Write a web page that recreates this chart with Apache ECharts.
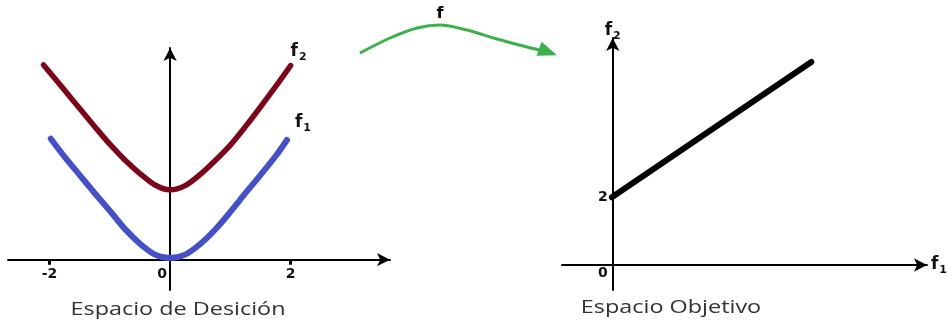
<!DOCTYPE html>
<html>
<head>
	<meta charset="utf-8">
	<title>Espacio de Desición / Espacio Objetivo</title>
	<script src="https://cdn.jsdelivr.net/npm/echarts@6/dist/echarts.min.js"></script>
</head>
<body style="margin:0">
<div id="chart" style="width:950px;height:322px"></div>
<script>
	// espacio de decision: x -> f1, f2
	const f1X = [-1.98, -1.75, -1.5, -1.25, -1, -0.75, -0.5, -0.25, 0, 0.25, 0.5, 0.75, 1, 1.25, 1.5, 1.75, 1.94];
	const f1Vals = [4.0, 3.4, 2.8, 2.2, 1.62, 1.02, 0.53, 0.17, 0.06, 0.17, 0.52, 1.0, 1.58, 2.2, 2.8, 3.42, 3.96];
	const f2X = [-2.1, -1.75, -1.5, -1.25, -1, -0.75, -0.5, -0.25, 0, 0.25, 0.5, 0.75, 1, 1.25, 1.5, 1.75, 2.0];
	const f2Vals = [6.44, 5.6, 5.0, 4.4, 3.82, 3.3, 2.85, 2.47, 2.31, 2.45, 2.82, 3.28, 3.79, 4.4, 5.05, 5.72, 6.42];
	const leftTicks = [-2, 0, 2];

	// espacio objetivo: f1 -> f2
	const objF1 = [0, 4];
	const objF2 = [2, 6];
	const rightTicks = [0, 2];

	// flecha verde "f"
	const arrowX = [20, 50, 77, 100, 127, 157, 187, 208];
	const arrowY = [47, 62, 72, 75, 70, 61, 53, 48];

	const zip = (a, b) => a.map((v, i) => [v, b[i]]);
	const black = '#000';
	const font = 'DejaVu Sans';
	const subRich = {
		s: {fontSize: 11, fontWeight: 'bold', color: '#111', padding: [11, 0, 0, 1], fontFamily: font}
	};
	const nameStyle = {fontSize: 17, fontWeight: 'bold', color: '#111', fontFamily: font, rich: subRich};
	const axisLineStyle = {onZero: false, lineStyle: {color: black, width: 2}, symbol: ['none', 'arrow'], symbolSize: [10, 13]};

	const arrowData = zip(arrowX, arrowY).map((p, i) => {
		const item = {value: p};
		if (i === 3) item.label = {show: true, formatter: 'f', position: 'top', distance: 3,
			fontSize: 16, fontWeight: 'bold', color: '#000', fontFamily: font};
		if (i === arrowX.length - 1) {
			item.symbol = 'triangle';
			item.symbolSize = [15, 19];
			item.symbolRotate = -110;
		}
		return item;
	});

	const option = {
		animation: false,
		backgroundColor: '#fff',
		grid: [
			{left: 8, top: 48, width: 382, height: 242},
			{left: 562, top: 38, width: 371, height: 252},
			{left: 340, top: 0, width: 240, height: 100}
		],
		xAxis: [
			{
				type: 'value', gridIndex: 0, min: -2.69, max: 3.65, position: 'bottom', offset: -30.3,
				splitLine: {show: false},
				axisLine: axisLineStyle,
				axisTick: {show: true, customValues: [-2, 2], length: 5, lineStyle: {color: black, width: 3}},
				axisLabel: {
					customValues: leftTicks, margin: 8, fontSize: 14, fontWeight: 'bold', color: '#111',
					fontFamily: font,
					formatter: v => v === 0 ? '{z|0}' : String(v),
					rich: {z: {fontSize: 14, fontWeight: 'bold', color: '#111', padding: [0, 16, 8, 0], fontFamily: font}}
				}
			},
			{
				type: 'value', gridIndex: 1, min: -1, max: 6.32, position: 'bottom', offset: -25,
				splitLine: {show: false},
				axisLine: axisLineStyle,
				axisTick: {show: false},
				axisLabel: {show: false},
				name: 'f{s|1}', nameLocation: 'end', nameGap: 4, nameTextStyle: nameStyle
			},
			{type: 'value', gridIndex: 2, min: 0, max: 240, show: false}
		],
		yAxis: [
			{
				type: 'value', gridIndex: 0, min: -1, max: 7.0, position: 'left', offset: -162.1,
				splitLine: {show: false},
				axisLine: axisLineStyle,
				axisTick: {show: false},
				axisLabel: {show: false}
			},
			{
				type: 'value', gridIndex: 1, min: -0.74, max: 6.71, position: 'left', offset: -50.7,
				splitLine: {show: false},
				axisLine: axisLineStyle,
				axisTick: {show: false},
				axisLabel: {
					customValues: rightTicks, margin: 5, fontSize: 14, fontWeight: 'bold', color: '#111',
					fontFamily: font,
					formatter: v => v === 0 ? '{z|0}' : String(v),
					rich: {z: {fontSize: 14, fontWeight: 'bold', color: '#111', padding: [16, 0, 0, 0], fontFamily: font}}
				},
				name: 'f{s|2}', nameLocation: 'end', nameGap: -4, nameTextStyle: nameStyle
			},
			{type: 'value', gridIndex: 2, min: 0, max: 100, show: false}
		],
		series: [
			{
				name: 'f2', type: 'line', xAxisIndex: 0, yAxisIndex: 0,
				data: zip(f2X, f2Vals), smooth: 0.3, symbol: 'none',
				lineStyle: {color: '#7d0519', width: 5.5, cap: 'round'},
				endLabel: {show: true, formatter: 'f{s|2}', offset: [-8, -14], ...nameStyle}
			},
			{
				name: 'f1', type: 'line', xAxisIndex: 0, yAxisIndex: 0,
				data: zip(f1X, f1Vals), smooth: 0.3, symbol: 'none',
				lineStyle: {color: '#4650c6', width: 6, cap: 'round'},
				endLabel: {show: true, formatter: 'f{s|1}', offset: [0, -17], ...nameStyle}
			},
			{
				name: 'objetivo', type: 'line', xAxisIndex: 1, yAxisIndex: 1,
				data: zip(objF1, objF2), symbol: 'none',
				lineStyle: {color: '#000', width: 6, cap: 'round'}
			},
			{
				name: 'f', type: 'line', xAxisIndex: 2, yAxisIndex: 2,
				data: arrowData, smooth: 0.3, symbol: 'circle', symbolSize: 0, showSymbol: true,
				itemStyle: {color: '#3cb04a'},
				lineStyle: {color: '#3cb04a', width: 3}
			}
		],
		graphic: [
			{type: 'text', x: 178, y: 310, scaleX: 1.3, style: {text: 'Espacio de Desición', font: '18px "Open Sans"', fill: '#333', align: 'center', verticalAlign: 'middle'}},
			{type: 'text', x: 671, y: 308, scaleX: 1.3, style: {text: 'Espacio Objetivo', font: '18px "Open Sans"', fill: '#333', align: 'center', verticalAlign: 'middle'}}
		]
	};

	const myChart = echarts.init(document.getElementById('chart'));
	myChart.setOption(option);
</script>
</body>
</html>
